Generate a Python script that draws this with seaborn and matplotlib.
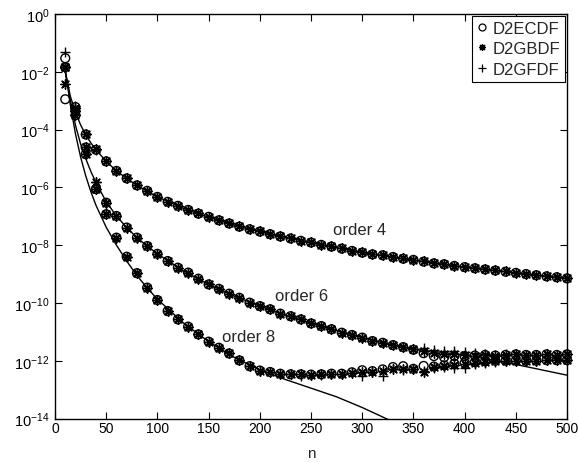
import numpy as np
import pandas as pd
import matplotlib
matplotlib.use("Agg")
import matplotlib.pyplot as plt
from matplotlib.lines import Line2D
import seaborn as sns

# ---------------- data (log10 of error) ----------------
n = [10, 20, 30, 40, 50, 60, 70, 80, 90, 100,
     110, 120, 130, 140, 150, 160, 170, 180, 190, 200,
     210, 220, 230, 240, 250, 260, 270, 280, 290, 300,
     310, 320, 330, 340, 350, 360, 370, 380, 390, 400,
     410, 420, 430, 440, 450, 460, 470, 480, 490, 500]

# order 4
o4_ecdf = [-2.95, -3.22, -4.17, -4.70, -5.10, -5.43, -5.69, -5.93, -6.12, -6.33,
           -6.50, -6.64, -6.78, -6.91, -7.02, -7.14, -7.25, -7.36, -7.45, -7.53,
           -7.62, -7.70, -7.77, -7.85, -7.91, -7.99, -8.05, -8.12, -8.20, -8.26,
           -8.32, -8.35, -8.41, -8.47, -8.51, -8.57, -8.63, -8.66, -8.72, -8.76,
           -8.80, -8.84, -8.88, -8.92, -8.96, -9.00, -9.04, -9.08, -9.11, -9.15]
o4_gbdf = [-2.43, -3.25, -4.15, -4.68, -5.08, -5.42, -5.68, -5.92, -6.11, -6.32,
           -6.49, -6.63, -6.77, -6.90, -7.01, -7.13, -7.24, -7.35, -7.44, -7.52,
           -7.61, -7.69, -7.76, -7.84, -7.90, -7.98, -8.04, -8.11, -8.19, -8.25,
           -8.31, -8.34, -8.40, -8.46, -8.50, -8.56, -8.62, -8.65, -8.71, -8.75,
           -8.79, -8.83, -8.87, -8.91, -8.95, -8.99, -9.03, -9.07, -9.10, -9.14]
o4_gfdf = [-1.84, -3.20, -4.16, -4.69, -5.09, -5.42, -5.68, -5.92, -6.11, -6.32,
           -6.49, -6.63, -6.77, -6.90, -7.01, -7.13, -7.24, -7.35, -7.44, -7.52,
           -7.61, -7.69, -7.76, -7.84, -7.90, -7.98, -8.04, -8.11, -8.19, -8.25,
           -8.31, -8.34, -8.40, -8.46, -8.50, -8.56, -8.62, -8.65, -8.71, -8.75,
           -8.79, -8.83, -8.87, -8.91, -8.95, -8.99, -9.03, -9.07, -9.10, -9.14]

# order 6
o6_ecdf = [-1.84, -3.35, -4.62, -6.06, -6.53, -6.99, -7.39, -7.74, -8.03, -8.30,
           -8.55, -8.78, -8.95, -9.16, -9.36, -9.51, -9.68, -9.82, -9.99, -10.11,
           -10.22, -10.37, -10.46, -10.57, -10.71, -10.80, -10.91, -11.03, -11.11, -11.20,
           -11.32, -11.38, -11.46, -11.53, -11.62, -11.74, -11.84, -11.88, -11.84, -11.84,
           -11.82, -11.80, -11.82, -11.80, -11.78, -11.80, -11.80, -11.78, -11.80, -11.78]
o6_gbdf = [-1.84, -3.35, -4.62, -5.83, -6.53, -6.99, -7.39, -7.74, -8.03, -8.30,
           -8.55, -8.78, -8.95, -9.16, -9.36, -9.51, -9.68, -9.82, -9.99, -10.11,
           -10.22, -10.37, -10.46, -10.57, -10.71, -10.80, -10.91, -11.03, -11.11, -11.20,
           -11.32, -11.38, -11.46, -11.53, -11.60, -11.66, -11.72, -11.76, -11.78, -11.80,
           -11.82, -11.80, -11.82, -11.80, -11.78, -11.80, -11.80, -11.78, -11.80, -11.78]
o6_gfdf = [-1.84, -3.35, -4.62, -5.83, -6.53, -6.99, -7.39, -7.74, -8.03, -8.30,
           -8.55, -8.78, -8.95, -9.16, -9.36, -9.51, -9.68, -9.82, -9.99, -10.11,
           -10.22, -10.37, -10.46, -10.57, -10.71, -10.80, -10.91, -11.03, -11.11, -11.20,
           -11.32, -11.38, -11.46, -11.53, -11.58, -11.55, -11.62, -11.66, -11.68, -11.70,
           -11.72, -11.76, -11.80, -11.78, -11.78, -11.80, -11.80, -11.78, -11.80, -11.78]

# order 8
o8_ecdf = [-1.53, -3.50, -4.85, -6.06, -6.93, -7.74, -8.40, -8.97, -9.47, -9.90,
           -10.28, -10.57, -10.82, -11.09, -11.34, -11.55, -11.75, -11.99, -12.19, -12.34,
           -12.39, -12.45, -12.47, -12.47, -12.48, -12.47, -12.45, -12.45, -12.40, -12.33,
           -12.36, -12.30, -12.22, -12.19, -12.28, -12.18, -12.20, -12.16, -12.10, -12.08,
           -12.05, -12.02, -12.00, -12.00, -12.00, -12.00, -12.00, -11.98, -11.98, -11.98]
o8_gbdf = [-1.84, -3.50, -4.85, -6.06, -6.93, -7.74, -8.40, -8.97, -9.47, -9.90,
           -10.28, -10.57, -10.82, -11.09, -11.34, -11.55, -11.75, -11.99, -12.19, -12.34,
           -12.39, -12.45, -12.47, -12.47, -12.48, -12.47, -12.45, -12.45, -12.42, -12.40,
           -12.38, -12.36, -12.28, -12.30, -12.30, -12.40, -12.22, -12.20, -12.16, -12.12,
           -12.08, -12.04, -12.02, -12.00, -12.00, -12.00, -12.00, -11.98, -11.98, -11.98]
o8_gfdf = [-1.32, -3.50, -4.85, -6.06, -6.93, -7.74, -8.40, -8.97, -9.47, -9.90,
           -10.28, -10.57, -10.82, -11.09, -11.34, -11.55, -11.75, -11.99, -12.19, -12.34,
           -12.39, -12.45, -12.47, -12.52, -12.48, -12.50, -12.45, -12.45, -12.44, -12.52,
           -12.40, -12.54, -12.30, -12.32, -12.30, -12.35, -12.26, -12.22, -12.24, -12.26,
           -12.12, -12.08, -12.04, -12.02, -12.00, -12.00, -12.00, -11.98, -11.98, -11.98]

# reference curves
line_n = [10, 15, 20, 25, 30, 35, 40, 50, 60, 70, 80, 90, 100, 125, 150, 175,
          200, 225, 250, 275, 300, 325, 350, 400, 450, 500]
line4 = [-2.00, -2.85, -3.40, -3.84, -4.18, -4.46, -4.70, -5.10, -5.43, -5.69, -5.93,
         -6.13, -6.33, -6.72, -7.03, -7.30, -7.53, -7.73, -7.91, -8.09, -8.25, -8.39,
         -8.52, -8.76, -8.96, -9.15]
line6 = [-2.00, -3.00, -3.85, -4.50, -5.00, -5.45, -5.83, -6.50, -6.99, -7.39, -7.74,
         -8.03, -8.30, -8.88, -9.36, -9.76, -10.11, -10.42, -10.70, -10.96, -11.20,
         -11.42, -11.60, -11.80, -12.13, -12.50]
line8_n = [10, 15, 20, 25, 30, 35, 40, 50, 60, 70, 80, 90, 100, 125, 150, 175,
           200, 225, 250, 275, 300, 325, 350]
line8 = [-1.90, -3.15, -4.15, -4.95, -5.60, -6.15, -6.62, -7.38, -8.00, -8.55, -9.05,
         -9.48, -9.87, -10.68, -11.34, -11.88, -12.32, -12.65, -12.95, -13.25, -13.62,
         -14.03, -14.40]

methods = ["D2ECDF", "D2GBDF", "D2GFDF"]
annot = [("order 4", 297, -7.45), ("order 6", 241, -9.74), ("order 8", 189, -11.15)]
yticks_exp = [0, -2, -4, -6, -8, -10, -12, -14]
xticks = [0, 50, 100, 150, 200, 250, 300, 350, 400, 450, 500]

# ---------------- plotting ----------------
sns.set_style("ticks")
plt.rcParams["font.family"] = ["Liberation Sans", "DejaVu Sans"]
plt.rcParams["mathtext.fontset"] = "custom"
plt.rcParams["mathtext.rm"] = "Liberation Sans"
plt.rcParams["mathtext.it"] = "Liberation Sans:italic"

fig = plt.figure(figsize=(5.79, 4.64), dpi=100)
ax = fig.add_axes([55 / 579, 1 - 419.5 / 464, (567 - 55) / 579, (419.5 - 15) / 464])

for ln, lv in [(line_n, line4), (line_n, line6), (line8_n, line8)]:
    sns.lineplot(x=ln, y=10.0 ** np.array(lv), ax=ax, color="black", lw=1.0,
                 estimator=None, sort=False)

marker_style = {
    "D2ECDF": dict(marker="o", facecolors="none", edgecolors="black", linewidths=1.0, s=40),
    "D2GBDF": dict(marker=(8, 2, 0), color="black", linewidths=1.0, s=46),
    "D2GFDF": dict(marker="+", color="black", linewidths=1.0, s=52),
}
series = {
    "D2ECDF": [o4_ecdf, o6_ecdf, o8_ecdf],
    "D2GBDF": [o4_gbdf, o6_gbdf, o8_gbdf],
    "D2GFDF": [o4_gfdf, o6_gfdf, o8_gfdf],
}
for m in methods:
    for vals in series[m]:
        df = pd.DataFrame({"n": n, "err": 10.0 ** np.array(vals)})
        sns.scatterplot(data=df, x="n", y="err", ax=ax, legend=False, clip_on=False,
                        zorder=3, **marker_style[m])

ax.set_yscale("log")
ax.set_xlim(0, 500)
ax.set_ylim(1e-14, 1e0)
ax.set_yticks([10.0 ** e for e in yticks_exp])
ax.set_yticklabels([r"$10^{%d}$" % e for e in yticks_exp])
ax.minorticks_off()
ax.set_xticks(xticks)
ax.set_xticklabels([str(x) for x in xticks])
ax.tick_params(direction="in", top=True, right=True, length=5, width=0.8,
               labelsize=10.5, colors="black")
ax.tick_params(axis="x", pad=2, labelsize=10)
ax.tick_params(axis="y", pad=4)
for sp in ax.spines.values():
    sp.set_linewidth(1.0)
    sp.set_color("black")
ax.set_xlabel("n", fontsize=11, labelpad=8)
ax.set_ylabel("")

for txt, xv, yv in annot:
    ax.text(xv, 10.0 ** yv, txt, fontsize=12, ha="center", va="center")

handles = [
    Line2D([], [], ls="", marker="o", mfc="none", mec="black", ms=5, mew=0.9),
    Line2D([], [], ls="", marker=(8, 2, 0), color="black", ms=5, mew=0.9),
    Line2D([], [], ls="", marker="+", color="black", ms=6, mew=0.9),
]
leg = ax.legend(handles, methods, loc="upper right", fontsize=12, frameon=True,
                fancybox=False, edgecolor="black", framealpha=1, handlelength=0.6,
                handletextpad=0.35, borderpad=0.3, labelspacing=0.32,
                borderaxespad=0.12)
leg.get_frame().set_linewidth(0.8)

fig.savefig("out.png", dpi=100)
